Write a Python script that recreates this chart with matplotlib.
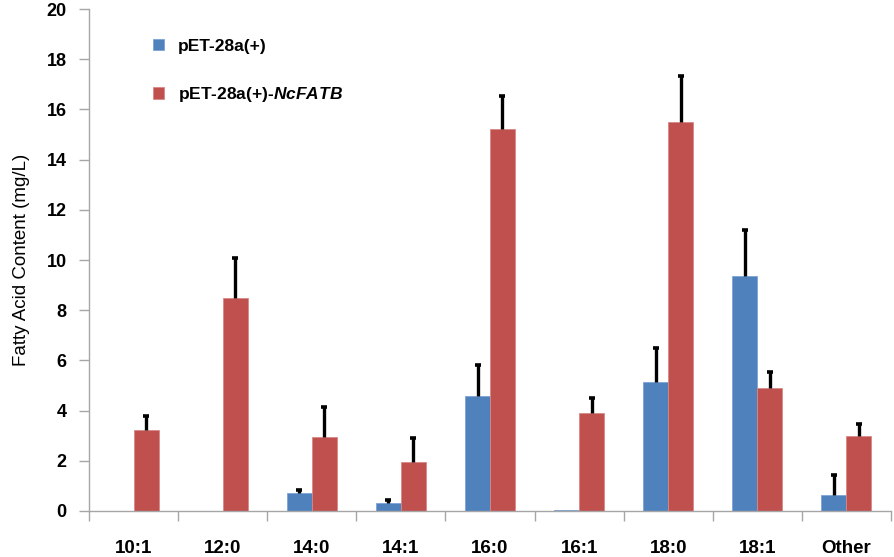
import matplotlib
matplotlib.use("Agg")
import matplotlib.pyplot as plt
import numpy as np

categories = ["10:1", "12:0", "14:0", "14:1", "16:0", "16:1", "18:0", "18:1", "Other"]
ctrl_vals = [0.0, 0.0, 0.72, 0.33, 4.6, 0.05, 5.15, 9.35, 0.65]
ctrl_err = [0.0, 0.0, 0.12, 0.10, 1.2, 0.0, 1.35, 1.85, 0.77]
fatb_vals = [3.22, 8.47, 2.95, 1.97, 15.2, 3.9, 15.5, 4.9, 3.0]
fatb_err = [0.55, 1.6, 1.18, 0.93, 1.35, 0.6, 1.85, 0.65, 0.45]
series_names = ["pET-28a(+)", "pET-28a(+)-$\\it{NcFATB}$"]
yticks = [0, 2, 4, 6, 8, 10, 12, 14, 16, 18, 20]

plt.rcParams['font.family'] = ['Liberation Sans', 'DejaVu Sans']
plt.rcParams['mathtext.fontset'] = 'custom'
plt.rcParams['mathtext.it'] = 'Liberation Sans:italic:bold'
plt.rcParams['mathtext.rm'] = 'Liberation Sans:bold'

blue = "#4F81BD"
red = "#C0504D"

fig = plt.figure(figsize=(8.94, 5.57), dpi=100)
ax = fig.add_axes([0.0996, 0.0826, 0.897, 0.9012])

x = np.arange(len(categories))
w = 0.28
ax.bar(x - w / 2, ctrl_vals, w, color=blue, edgecolor="#7DA3D6", linewidth=0.6, label=series_names[0], zorder=2)
ax.bar(x + w / 2, fatb_vals, w, color=red, edgecolor="#D98886", linewidth=0.6, label=series_names[1], zorder=2)


def upper_err(xpos, vals, errs):
    xpos = np.asarray(xpos)
    vals = np.asarray(vals)
    errs = np.asarray(errs)
    m = errs > 0
    ax.vlines(xpos[m], vals[m], vals[m] + errs[m], color="black", linewidth=2.4, zorder=3)
    ax.plot(xpos[m], vals[m] + errs[m], linestyle="none", marker="_", markersize=5,
            markeredgewidth=2.6, color="black", zorder=3)


upper_err(x - w / 2, ctrl_vals, ctrl_err)
upper_err(x + w / 2, fatb_vals, fatb_err)

ax.set_xlim(-0.5, len(categories) - 0.5)
ax.set_ylim(0, 20)
ax.set_yticks(yticks)
ax.set_yticklabels([str(v) for v in yticks], fontsize=13, fontweight="bold")
ax.set_xticks(x)
ax.set_xticklabels(categories, fontsize=13.5, fontweight="bold")
ax.set_xticks(np.arange(len(categories) + 1) - 0.5, minor=True)
ax.tick_params(axis="x", which="major", length=0, pad=21)
ax.tick_params(axis="x", which="minor", length=7, color="#A6A6A6", width=1)
ax.tick_params(axis="y", length=7, color="#A6A6A6", width=1, pad=9)

for s in ["top", "right"]:
    ax.spines[s].set_visible(False)
for s in ["left", "bottom"]:
    ax.spines[s].set_color("#A6A6A6")
    ax.spines[s].set_linewidth(1)

ax.set_ylabel("Fatty Acid Content (mg/L)", fontsize=13.5, labelpad=12)

leg = ax.legend(loc="upper left", bbox_to_anchor=(0.06, 0.972), frameon=False,
                prop={"size": 12.5, "weight": "bold"}, handlelength=0.65, handleheight=0.65,
                labelspacing=1.8, handletextpad=0.8)

fig.savefig("out.png", dpi=100)
